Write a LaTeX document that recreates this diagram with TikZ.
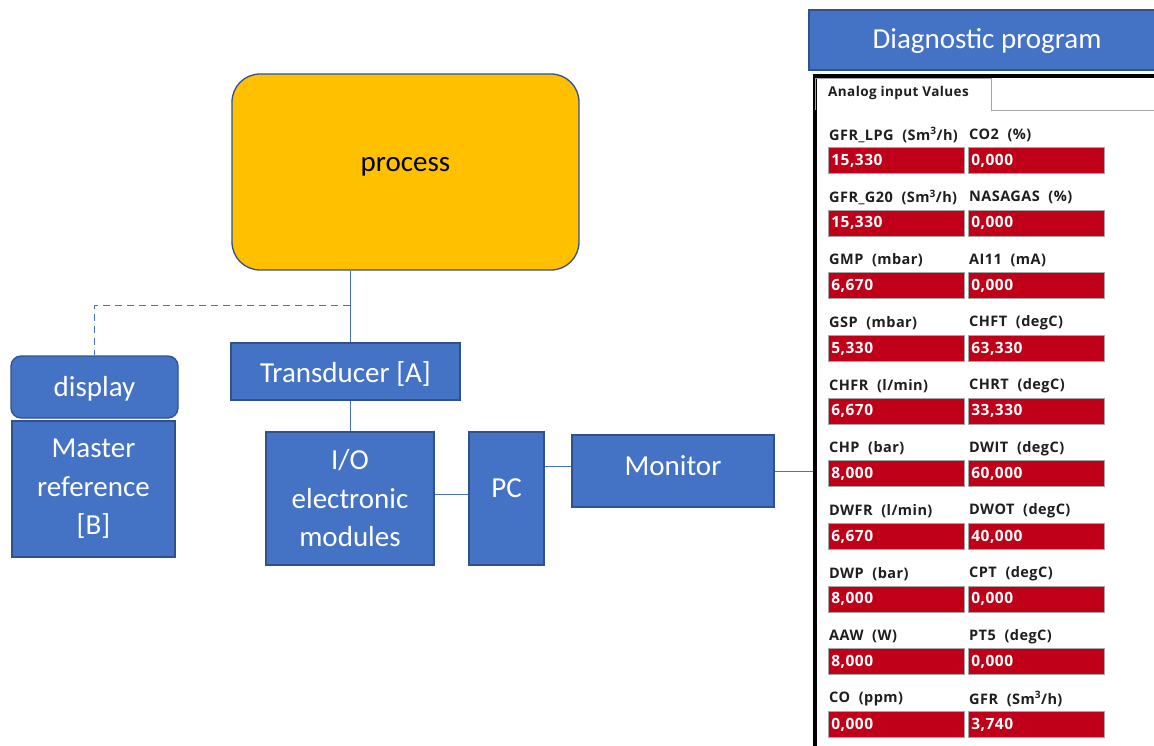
\documentclass[tikz,border=0pt]{standalone}
\usepackage{fontspec}
\setmainfont{Carlito}
\newfontfamily\panelfont[LetterSpace=3]{Open Sans}
\usetikzlibrary{positioning, calc}
\definecolor{boxblue}{RGB}{68,114,196}
\definecolor{boxedge}{RGB}{47,82,143}
\definecolor{procfill}{RGB}{255,192,0}
\definecolor{valred}{RGB}{192,0,24}
\definecolor{tabgray}{RGB}{165,165,165}
\definecolor{labelink}{RGB}{30,30,30}
\tikzset{
  bluebox/.style={draw=boxedge, line width=1.3pt, fill=boxblue, text=white, align=center, inner sep=0pt,
    font=\fontsize{29}{38.5}\selectfont},
  boxtext/.style={font=\fontsize{29}{35}\selectfont},
  link/.style={draw=boxblue, line width=1pt},
  anlabel/.style={anchor=west, inner sep=0pt, text=labelink, font=\panelfont\bfseries\fontsize{14.5}{16}\selectfont},
  anvalue/.style={draw=tabgray, line width=0.8pt, fill=valred, text=white, anchor=north west, inner xsep=3pt, inner ysep=0pt,
    text width=130pt, minimum height=26pt, font=\panelfont\bfseries\fontsize{15.5}{17}\selectfont}
}
% one row of the analog input panel
\newcommand{\analogrow}[5]{%
  \node[anlabel] (lblL#1) at (829,{135+62.67*#1}) {#2};
  \node[anvalue] (valL#1) at (828,{147+62.67*#1}) {#3};
  \node[anlabel] (lblR#1) at (969,{135+62.67*#1}) {#4};
  \node[anvalue] (valR#1) at (968,{147+62.67*#1}) {#5};
}
\newcommand{\unitgap}{\hspace{0.6em}}

\begin{document}
\begin{tikzpicture}[x=1pt, y=-1pt]
    \useasboundingbox (0,0) rectangle (1154,746);

    % Process
    \node[bluebox, fill=procfill, rounded corners=28pt, minimum width=347pt, minimum height=196pt,
      label={[yshift=5pt, boxtext]center:process}] (process) at (405.5,172) {};

    % Transducer and display
    \node[bluebox, minimum width=229pt, minimum height=57pt,
      label={[yshift=-2pt, text=white, boxtext]center:Transducer [A]}] (transducer) at (345.5,371.5) {};
    \node[bluebox, rounded corners=10pt, minimum width=167pt, minimum height=62pt,
      label={[yshift=-2pt, text=white, boxtext]center:display}] (display) at (94.5,387) {};
    \node[bluebox, minimum width=163pt, minimum height=136pt] (master) at (93.5,489) {Master\\reference\\{[B]}};

    % Acquisition chain
    \node[bluebox, minimum width=168pt, minimum height=133pt] (io) at (350,498.5) {I/O\\electronic\\modules};
    \node[bluebox, minimum width=75pt, minimum height=133pt,
      label={[yshift=10pt, text=white, boxtext]center:PC}] (pc) at (506.5,498.5) {};
    \node[bluebox, minimum width=202pt, minimum height=72pt,
      label={[yshift=5pt, text=white, boxtext]center:Monitor}] (monitor) at (673,471) {};

    % Connections
    \coordinate (tap) at (350,305);
    \draw[link] (tap |- process.south) -- (tap |- transducer.north);
    \draw[link, dashed, dash pattern=on 7pt off 5pt] (tap) -| (display.north);
    \draw[link] (io.north |- transducer.south) -- (io.north);
    \draw[link] (io.east |- 0,494) -- (pc.west |- 0,494);
    \draw[link] (pc.east |- 0,466) -- (monitor.west |- 0,466);

    % Diagnostic program
    \node[bluebox, minimum width=356pt, minimum height=60pt,
      label={[yshift=-1pt, text=white, boxtext]center:Diagnostic program}] (diag) at (987,40) {};
    \node[draw=black, fill=white, line width=4.5pt, anchor=north west, minimum width=400pt, minimum height=700pt,
      inner sep=0pt] (panel) at (812.5,74) {};
    \draw[link] (monitor.east) -- (monitor.east -| panel.west);

    % Tab
    \draw[tabgray, line width=0.8pt] (815.5,110) |- (991,78) -- (991,110) -- (1160,110);
    \node[anlabel, font=\panelfont\bfseries\fontsize{13.5}{16}\selectfont] (tab) at (828,93) {Analog input Values};

    % Values
    \analogrow{0}{GFR\_LPG\unitgap(Sm\textsuperscript{3}/h)}{15,330}{CO2\unitgap(\%)}{0,000}
    \analogrow{1}{GFR\_G20\unitgap(Sm\textsuperscript{3}/h)}{15,330}{NASAGAS\unitgap(\%)}{0,000}
    \analogrow{2}{GMP\unitgap(mbar)}{6,670}{AI11\unitgap(mA)}{0,000}
    \analogrow{3}{GSP\unitgap(mbar)}{5,330}{CHFT\unitgap(degC)}{63,330}
    \analogrow{4}{CHFR\unitgap(l/min)}{6,670}{CHRT\unitgap(degC)}{33,330}
    \analogrow{5}{CHP\unitgap(bar)}{8,000}{DWIT\unitgap(degC)}{60,000}
    \analogrow{6}{DWFR\unitgap(l/min)}{6,670}{DWOT\unitgap(degC)}{40,000}
    \analogrow{7}{DWP\unitgap(bar)}{8,000}{CPT\unitgap(degC)}{0,000}
    \analogrow{8}{AAW\unitgap(W)}{8,000}{PT5\unitgap(degC)}{0,000}
    \analogrow{9}{CO\unitgap(ppm)}{0,000}{GFR\unitgap(Sm\textsuperscript{3}/h)}{3,740}
\end{tikzpicture}
\end{document}
